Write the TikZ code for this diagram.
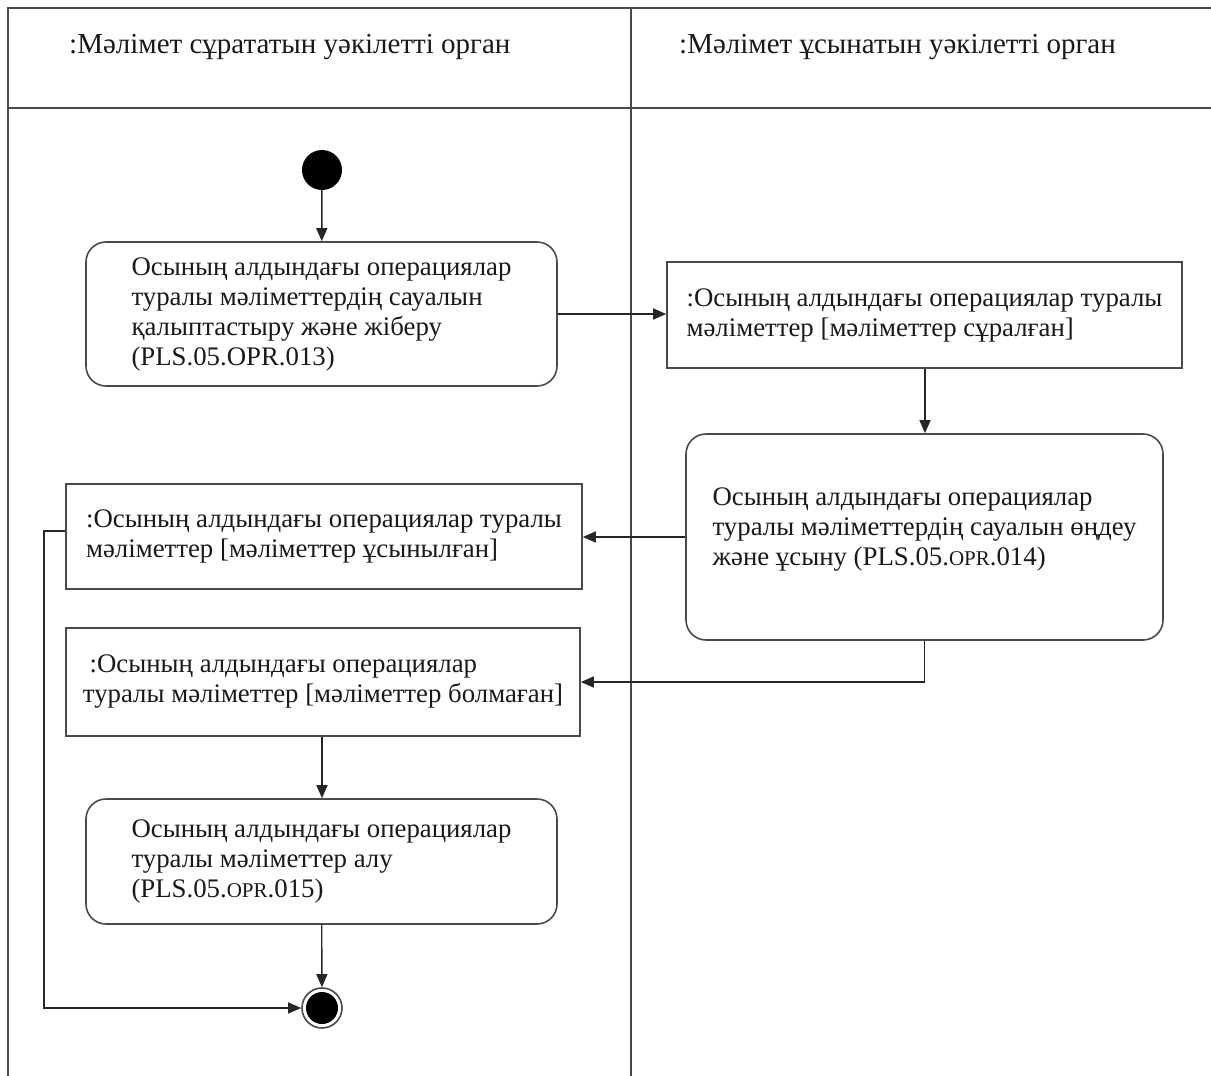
\documentclass[tikz,border=0pt]{standalone}
\usepackage{fontspec}
\setmainfont{Liberation Serif}
\usetikzlibrary{arrows.meta}
\definecolor{ln}{HTML}{4A4A4A}
\tikzset{
  every node/.style={font=\fontsize{26.8}{30}\selectfont, text=black!90},
  lane/.style={draw=ln, line width=1.6pt},
  act/.style={draw=ln, line width=1.6pt, rounded corners=20pt, align=left, inner sep=0pt},
  obj/.style={draw=ln, line width=1.6pt, align=left, inner sep=0pt},
  flow/.style={draw=black!85, line width=1.4pt, -{Triangle[length=13pt,width=11pt]}},
  hdr/.style={anchor=west, inner sep=0pt, font=\fontsize{29}{30}\selectfont}
}
\newcommand{\opr}{{\fontsize{21}{30}\selectfont OPR}}
\begin{document}
\begin{tikzpicture}[x=1pt,y=-1pt]
\useasboundingbox (0,0) rectangle (1211,1076);
% swimlane frame
\draw[lane] (1211,8) -- (8,8) -- (8,1076);
\draw[lane] (8,108) -- (1211,108);
\draw[lane] (631,8) -- (631,1076);
\node[hdr] (h1) at (69,47) {:Мәлімет сұрататын уәкілетті орган};
\node[hdr] (h2) at (679,47) {:Мәлімет ұсынатын уәкілетті орган};
% nodes
\node[circle, fill=black, minimum size=40pt, inner sep=0pt] (start) at (322,170) {};
\node[act, minimum width=471pt, minimum height=144pt] (a1) at (321.5,314)
  {Осының алдындағы операциялар\\туралы мәліметтердің сауалын\\қалыптастыру және жіберу\\(PLS.05.OPR.013)};
\node[obj, minimum width=515pt, minimum height=106pt] (o1) at (924.5,315)
  {:Осының алдындағы операциялар туралы\\мәліметтер [мәліметтер сұралған]};
\node[act, minimum width=477pt, minimum height=206pt] (a2) at (924.5,537)
  {Осының алдындағы операциялар\\туралы мәліметтердің сауалын өңдеу\\және ұсыну (PLS.05.\opr.014)\\[-10pt]};
\node[obj, minimum width=516pt, minimum height=105pt] (o2) at (324,536.5)
  {:Осының алдындағы операциялар туралы\\мәліметтер [мәліметтер ұсынылған]};
\node[obj, minimum width=514pt, minimum height=108pt] (o3) at (323,682)
  {\ :Осының алдындағы операциялар\\туралы мәліметтер [мәліметтер болмаған]};
\node[act, minimum width=471pt, minimum height=125pt] (a3) at (321.5,861.5)
  {Осының алдындағы операциялар\\туралы мәліметтер алу\\(PLS.05.\opr.015)};
\node[circle, draw=ln, line width=1.6pt, minimum size=40pt, inner sep=0pt,
  path picture={\fill[black] (path picture bounding box.center) circle (16pt);}] (end) at (322,1008) {};
% connectors
\draw[flow] (start) -- (a1);
\draw[flow] (a1.east) -- (a1.east -| o1.west);
\draw[flow] (o1.south -| 925,0) -- (a2.north -| 925,0);
\draw[flow] (a2.west) -- (a2.west -| o2.east);
\draw[flow] (a2.south) |- (o3.east);
\draw[flow] (o3.south -| 322,0) -- (a3.north -| 322,0);
\draw[flow] (a3) -- (end);
\coordinate (lx) at (44,531);
\draw[flow] (o2.west |- lx) -- (lx) |- (end.west);
\end{tikzpicture}
\end{document}
